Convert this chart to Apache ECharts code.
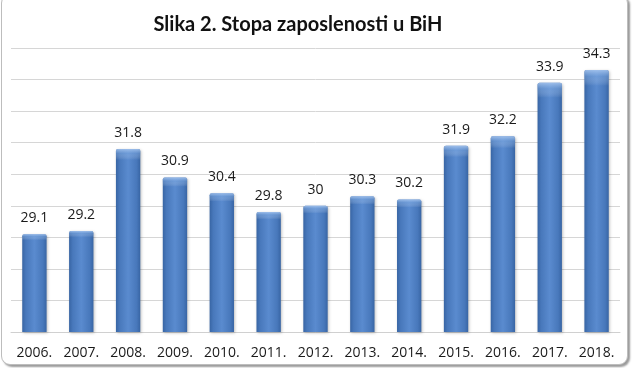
<!DOCTYPE html>
<html><head><meta charset="utf-8">
<script src="https://cdn.jsdelivr.net/npm/echarts@6/dist/echarts.min.js"></script>
<style>
html,body{margin:0;padding:0;background:#fff;}
#c{position:absolute;left:1px;top:-6px;width:625px;height:369px;border:1px solid #bdbdbd;border-radius:9px;box-shadow:2px 2px 2px #9a9a9a;background:#fff;}
</style></head>
<body><div id="c"></div>
<script>
const categories = ['2006.','2007.','2008.','2009.','2010.','2011.','2012.','2013.','2014.','2015.','2016.','2017.','2018.'];
const values = [29.1,29.2,31.8,30.9,30.4,29.8,30,30.3,30.2,31.9,32.2,33.9,34.3];
const yMin = 26, yMax = 35, yStep = 1;

const chart = echarts.init(document.getElementById('c'), null, {renderer:'canvas'});
chart.setOption({
  animation:false,
  title:{text:'Slika 2. Stopa zaposlenosti u BiH', left:291, top:15, textAlign:'center',
    textStyle:{fontFamily:'Lato', fontWeight:'bold', fontSize:20, color:'#111'}},
  grid:{left:9, right:7, top:53, bottom:32, containLabel:false},
  xAxis:{type:'category', data:categories,
    axisLine:{show:true, lineStyle:{color:'#d0d0d0'}}, axisTick:{show:false},
    axisLabel:{color:'#1a1a1a', fontSize:14, fontFamily:'Open Sans', margin:14}},
  yAxis:{type:'value', min:yMin, max:yMax, interval:yStep,
    axisLabel:{show:false}, axisLine:{show:false}, axisTick:{show:false},
    splitLine:{lineStyle:{color:'#d6d6d6', width:1}}},
  series:[{type:'bar', data:values, barWidth:'52%',
    itemStyle:{color:new echarts.graphic.LinearGradient(0,0,1,0,[
      {offset:0,color:'#3865a4'},{offset:0.15,color:'#4878bb'},{offset:0.5,color:'#5a8bcf'},{offset:0.85,color:'#4878bb'},{offset:1,color:'#3865a4'}]),
      borderRadius:[2,2,0,0], shadowColor:'rgba(0,0,0,0.25)', shadowBlur:3, shadowOffsetX:1, shadowOffsetY:1},
    label:{show:true, position:'top', distance:9, color:'#1a1a1a', fontSize:14, fontFamily:'Open Sans'}
  },{type:'bar', data:values, barWidth:'52%', barGap:'-100%', silent:true, z:3,
    itemStyle:{color:new echarts.graphic.LinearGradient(0,0,0,1,[
      {offset:0,color:'rgba(170,200,240,0.85)'},{offset:0.025,color:'rgba(140,180,230,0.4)'},{offset:0.06,color:'rgba(255,255,255,0)'},{offset:1,color:'rgba(255,255,255,0)'}]),
      borderRadius:[2,2,0,0]}
  }]
});
</script></body></html>
